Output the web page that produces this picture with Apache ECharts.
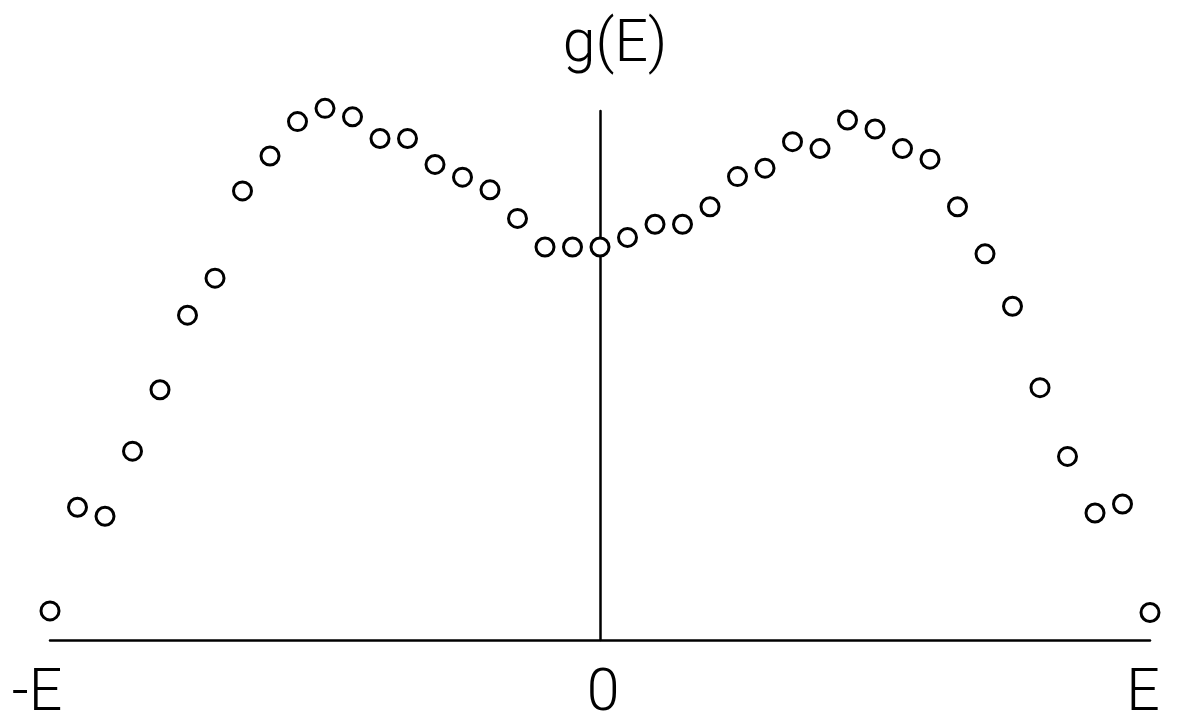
<!DOCTYPE html>
<html>
<head>
<meta charset="utf-8">
<title>g(E)</title>
<script src="https://cdn.jsdelivr.net/npm/echarts@6/dist/echarts.min.js"></script>
<style>
  html, body { margin: 0; padding: 0; background: #ffffff; }
  #chart { width: 1180px; height: 719px; }
</style>
</head>
<body>
<div id="chart"></div>
<script>
// Energy levels, in steps from -E (-20) to E (20)
const energies = [
  -20, -19, -18, -17, -16, -15, -14, -13, -12, -11,
  -10, -9, -8, -7, -6, -5, -4, -3, -2, -1,
  0, 1, 2, 3, 4, 5, 6, 7, 8, 9,
  10, 11, 12, 13, 14, 15, 16, 17, 18, 19, 20
];

// Density of states g(E) at each energy
const density = [
  0.055, 0.251, 0.234, 0.357, 0.473, 0.614, 0.684, 0.849, 0.915, 0.980,
  1.005, 0.989, 0.948, 0.948, 0.899, 0.875, 0.851, 0.797, 0.743, 0.743,
  0.743, 0.761, 0.786, 0.786, 0.819, 0.876, 0.892, 0.942, 0.929, 0.983,
  0.966, 0.929, 0.909, 0.819, 0.730, 0.631, 0.477, 0.347, 0.240, 0.257,
  0.052
];

// Tick positions on the energy axis and their labels
const tickValues = [-20, 0, 20];
const tickLabels = { '-20': '-E', '0': '0', '20': 'E' };

const points = energies.map((e, i) => [e, density[i]]);

const FONT = "Roboto, 'DejaVu Sans Condensed', sans-serif";
const FONT_SIZE = 59;
const FONT_WEIGHT = 300;

const chart = echarts.init(document.getElementById('chart'), null, { renderer: 'canvas' });

function richStyle(pad) {
  return { fontFamily: FONT, fontSize: FONT_SIZE, fontWeight: FONT_WEIGHT, color: '#000000', padding: pad };
}

chart.setOption({
  backgroundColor: '#ffffff',
  animation: false,
  title: {
    text: 'g(E)',
    left: 610,
    textAlign: 'center',
    top: 12,
    textStyle: {
      fontFamily: FONT,
      fontSize: FONT_SIZE,
      fontWeight: FONT_WEIGHT,
      color: '#000000'
    }
  },
  grid: {
    left: 50,
    right: 30,
    top: 111,
    bottom: 79,
    containLabel: false,
    outerBoundsMode: 'none'
  },
  xAxis: {
    type: 'value',
    min: -20,
    max: 20,
    splitLine: { show: false },
    axisTick: { show: false },
    axisLine: { show: true, onZero: false, lineStyle: { color: '#000000', width: 2.5 } },
    axisLabel: {
      show: true,
      customValues: tickValues,
      margin: 26,
      fontFamily: FONT,
      fontSize: FONT_SIZE,
      fontWeight: FONT_WEIGHT,
      color: '#000000',
      showMinLabel: true,
      showMaxLabel: true,
      formatter: function (v) {
        const t = tickLabels[String(v)];
        if (v < 0) return '{neg|' + t + '}';
        if (v > 0) return '{pos|' + t + '}';
        return '{mid|' + t + '}';
      },
      rich: {
        neg: richStyle([0, 26, 0, 0]),
        mid: richStyle([0, 0, 0, 6]),
        pos: richStyle([0, 14, 0, 0])
      }
    }
  },
  yAxis: {
    type: 'value',
    min: 0,
    max: 1,
    splitLine: { show: false },
    axisTick: { show: false },
    axisLabel: { show: false },
    axisLine: { show: true, onZero: true, lineStyle: { color: '#000000', width: 2.5 } }
  },
  series: [{
    type: 'scatter',
    data: points,
    clip: false,
    symbol: 'circle',
    symbolSize: 18,
    itemStyle: {
      color: '#ffffff',
      borderColor: '#000000',
      borderWidth: 3,
      opacity: 1
    },
    emphasis: { disabled: true }
  }]
});
</script>
</body>
</html>
